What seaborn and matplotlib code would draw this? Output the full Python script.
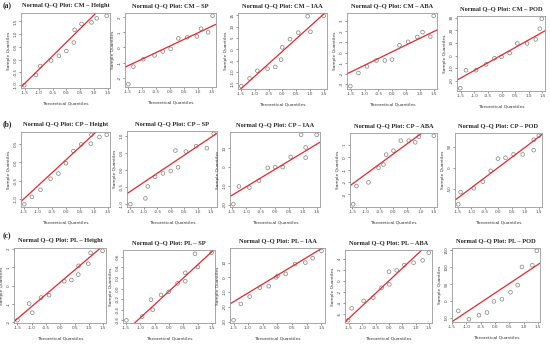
import matplotlib
matplotlib.use("Agg")
import matplotlib.pyplot as plt
import seaborn as sns
import pandas as pd

groups = ["CM", "CP", "PL"]
traits = ["Height", "SP", "IAA", "ABA", "POD"]
row_tags = ["(a)", "(b)", "(c)"]

# theoretical / sample quantiles
cm_height_x = [-1.52, -1.1, -0.94, -0.55, -0.27, 0.0, 0.27, 0.3, 0.55, 0.91, 1.1, 1.46]
cm_height_y = [-1.0, -0.6, -0.25, -0.03, 0.15, 0.34, 0.67, 1.17, 1.4, 1.46, 1.62, 1.72]
cm_sp_x = [-1.47, -1.29, -0.94, -0.54, -0.25, 0.03, 0.3, 0.62, 0.96, 1.11, 1.36, 1.52]
cm_sp_y = [-2.44, -1.27, -0.78, -0.53, -0.27, -0.09, 0.6, 0.67, 0.73, 1.24, 1.0, 2.1]
cm_iaa_x = [-1.49, -1.19, -0.91, -0.54, -0.26, -0.05, -0.01, 0.27, 0.57, 0.91, 1.01, 1.49]
cm_iaa_y = [-16.2, -12.8, -9.4, -8.5, -7.7, -4.5, 0.9, 4.5, 7.4, 14.6, 7.8, 14.8]
cm_aba_x = [-1.51, -1.22, -0.91, -0.57, -0.27, -0.01, 0.26, 0.57, 0.9, 1.09, 1.37, 1.49]
cm_aba_y = [-3.18, -1.93, -1.31, -0.75, -0.75, -0.66, 0.69, 1.02, 1.48, 1.93, 1.51, 3.48]
cm_pod_x = [-1.52, -1.31, -0.94, -0.57, -0.26, 0.0, 0.3, 0.58, 0.94, 1.26, 1.41, 1.48]
cm_pod_y = [-26.0, -11.7, -11.7, -7.1, -2.2, -1.1, 1.9, 9.6, 9.6, 12.8, 21.3, 29.2]

cp_height_x = [-1.49, -1.22, -0.91, -0.55, -0.27, 0.0, 0.27, 0.55, 0.89, 0.91, 1.2, 1.46]
cp_height_y = [-1.13, -0.93, -0.74, -0.44, -0.3, -0.02, 0.31, 0.49, 0.51, 0.75, 0.69, 0.75]
cp_sp_x = [-1.5, -0.94, -0.85, -0.58, -0.29, 0.0, 0.17, 0.27, 0.56, 0.94, 1.34, 1.59]
cp_sp_y = [-1.01, -0.84, -0.49, -0.21, -0.11, -0.04, 0.56, 0.07, 0.53, 0.69, 0.63, 1.05]
cp_iaa_x = [-1.46, -1.26, -0.89, -0.55, -0.24, 0.02, 0.29, 0.57, 0.94, 1.1, 1.1, 1.49]
cp_iaa_y = [-19.6, -10.2, -10.8, -7.2, -0.4, 0.0, 0.0, 5.4, 17.1, 10.4, 5.0, 17.1]
cp_aba_x = [-1.47, -1.35, -0.91, -0.54, -0.36, -0.26, 0.01, 0.28, 0.57, 0.81, 0.94, 1.49]
cp_aba_y = [-3.79, -2.32, -2.03, -0.85, -0.59, 0.21, 0.53, 1.33, 1.33, 1.2, 1.65, 1.73]
cp_pod_x = [-1.49, -1.4, -0.91, -0.57, -0.28, -0.01, 0.27, 0.57, 0.91, 1.32, 1.32, 1.51]
cp_pod_y = [-87.5, -58.6, -49.2, -33.6, -7.8, 21.1, 23.4, 31.3, 31.3, 66.4, 41.4, 75.8]

pl_height_x = [-1.5, -1.09, -0.98, -0.67, -0.39, 0.14, 0.39, 0.63, 0.64, 0.98, 1.06, 1.48]
pl_height_y = [-1.89, -0.98, -1.48, -0.65, -0.52, 0.24, 0.31, 0.61, 1.09, 1.2, 1.8, 1.91]
pl_sp_x = [-1.49, -0.94, -0.63, -0.57, -0.28, -0.01, 0.3, 0.57, 0.57, 0.91, 1.01, 1.49]
pl_sp_y = [-0.6, -0.53, -0.21, -0.4, -0.12, -0.06, 0.1, 0.14, 0.3, 0.66, 0.41, 0.68]
pl_iaa_x = [-1.5, -1.25, -0.95, -0.6, -0.3, -0.05, 0.0, 0.28, 0.6, 0.95, 1.2, 1.5]
pl_iaa_y = [-29.0, -18.0, -13.0, -7.0, -6.0, 0.0, 1.0, 2.4, 9.0, 10.0, 13.0, 18.0]
pl_aba_x = [-1.53, -1.4, -0.95, -0.59, -0.28, 0.0, 0.01, 0.29, 0.57, 0.92, 1.26, 1.49]
pl_aba_y = [-7.07, -4.91, -3.59, -2.99, -1.2, 1.68, -0.6, 1.92, 2.87, 3.29, 3.71, 5.09]
pl_pod_x = [-1.28, -0.91, -0.56, -0.28, -0.04, 0.24, 0.54, 0.79, 0.94, 1.3, 1.46]
pl_pod_y = [-29.0, -54.0, -42.0, -34.0, -1.0, 5.2, 26.0, 47.0, 101.0, 106.0, 149.0]

# reference line (slope, intercept) per panel, row by row
qq_slope = [[1.07, 0.88, 11.0, 1.28, 12.1],
            [0.70, 0.53, 9.0, 1.61, 48.2],
            [1.33, 0.50, 12.0, 4.5, 56.5]]
qq_intercept = [[0.68, 0.09, -0.8, 0.08, 0.3],
                [0.07, 0.16, -1.3, 0.26, 0.0],
                [0.19, -0.05, 1.5, 0.05, 23.5]]

# y tick values per panel
y_ticks = [[[-1.0, -0.5, 0.0, 0.5, 1.0, 1.5], [-2, -1, 0, 1, 2], [-15, -10, -5, 0, 5, 10, 15],
            [-3, -2, -1, 0, 1, 2, 3], [-20, -10, 0, 10, 20, 30]],
           [[-1.0, -0.5, 0.0, 0.5], [-1.0, -0.5, 0.0, 0.5, 1.0], [-20, -10, 0, 10],
            [-3, -2, -1, 0, 1], [-50, 0, 50]],
           [[-2, -1, 0, 1, 2], [-0.6, -0.4, -0.2, 0.0, 0.2, 0.4, 0.6], [-30, -20, -10, 0, 10],
            [-6, -4, -2, 0, 2, 4], [-50, 0, 50, 100, 150]]]

panels = [[(cm_height_x, cm_height_y), (cm_sp_x, cm_sp_y), (cm_iaa_x, cm_iaa_y),
           (cm_aba_x, cm_aba_y), (cm_pod_x, cm_pod_y)],
          [(cp_height_x, cp_height_y), (cp_sp_x, cp_sp_y), (cp_iaa_x, cp_iaa_y),
           (cp_aba_x, cp_aba_y), (cp_pod_x, cp_pod_y)],
          [(pl_height_x, pl_height_y), (pl_sp_x, pl_sp_y), (pl_iaa_x, pl_iaa_y),
           (pl_aba_x, pl_aba_y), (pl_pod_x, pl_pod_y)]]

# axes boxes in pixels: left, right, top, bottom
boxes = [[(21, 110, 13, 88), (125, 216, 13, 87), (238, 327, 13, 89), (347, 437, 13, 89), (457, 545, 16, 91)],
         [(21, 110, 132, 207), (127, 217, 131, 207), (230, 320, 132, 207), (350, 437, 133, 207), (455, 542, 133, 207)],
         [(14, 106, 248, 323), (123, 215, 250, 323), (230, 325, 248, 323), (345, 432, 250, 323), (452, 540, 248, 322)]]

sns.set_style("white")
W, H = 550, 344
fig = plt.figure(figsize=(5.5, 3.44), dpi=100)
fig.patch.set_facecolor("white")

for r in range(3):
    for c in range(5):
        x, y = panels[r][c]
        l, rr, t, b = boxes[r][c]
        ax = fig.add_axes([l / W, 1 - b / H, (rr - l) / W, (b - t) / H])
        df = pd.DataFrame({"x": x, "y": y})
        sns.scatterplot(data=df, x="x", y="y", ax=ax, s=7, marker="o",
                        facecolors="none", edgecolor="#808080", linewidth=0.5)
        ax.axline((0, qq_intercept[r][c]), slope=qq_slope[r][c], color="#e8262a", lw=0.9)
        xr = df.x.max() - df.x.min()
        yr = df.y.max() - df.y.min()
        ax.set_xlim(df.x.min() - 0.04 * xr, df.x.max() + 0.04 * xr)
        ax.set_ylim(df.y.min() - 0.04 * yr, df.y.max() + 0.04 * yr)
        ax.set_xticks([-1.5, -1.0, -0.5, 0.0, 0.5, 1.0, 1.5])
        ax.set_xticklabels(["-1.5", "-1.0", "-0.5", "0.0", "0.5", "1.0", "1.5"])
        yt = y_ticks[r][c]
        ax.set_yticks(yt)
        ax.set_yticklabels([str(v) for v in yt], rotation=90, va="center")
        ax.tick_params(axis="both", labelsize=3, length=1.5, width=0.4, pad=1,
                       colors="#444444", bottom=True, left=True)
        for s in ax.spines.values():
            s.set_color("#999999")
            s.set_linewidth(0.6)
        ax.set_xlabel("Theoretical Quantiles", fontsize=3.2, color="#333333", labelpad=4)
        ax.set_ylabel("Sample Quantiles", fontsize=3.2, color="#333333", labelpad=2)
        ax.set_title("Normal Q\u2013Q Plot: %s \u2013 %s" % (groups[r], traits[c]),
                     fontsize=4.6, fontweight="bold", family="Liberation Serif", pad=4)

tag_y = [6, 124, 236]
for r in range(3):
    fig.text(3 / W, 1 - tag_y[r] / H, row_tags[r], fontsize=5.5, fontweight="bold",
             family="Liberation Serif", va="center", ha="left")

fig.savefig("out.png", dpi=100, facecolor="white")
